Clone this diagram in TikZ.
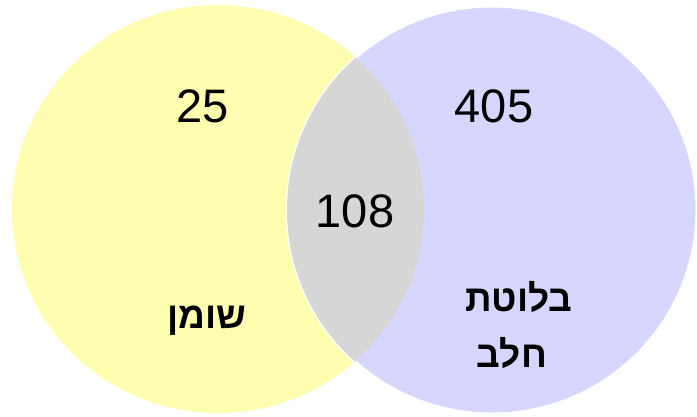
\documentclass[tikz,border=0pt]{standalone}
\usepackage{fontspec}
\setmainfont{Liberation Sans}
\newfontfamily\hebfont[Script=Hebrew]{Liberation Sans}
\TeXXeTstate=1
\definecolor{yellowc}{HTML}{FFFDB0}
\definecolor{bluec}{HTML}{D6D6FF}
\definecolor{grayc}{HTML}{D6D6D6}
\tikzset{
  num/.style={anchor=base, inner sep=0pt, font=\fontsize{47}{56}\selectfont},
  heb/.style={anchor=base, inner sep=0pt, font=\hebfont\bfseries\fontsize{37}{44}\selectfont}
}
\begin{document}
\begin{tikzpicture}[x=1pt,y=-1pt]
\useasboundingbox (0,0) rectangle (697,417);
\fill[yellowc] (218,209) ellipse [x radius=206, y radius=204];
\path[fill=bluec, draw=white, line width=3pt] (492,210) ellipse [x radius=205, y radius=204];
\begin{scope}
  \clip (218,209) ellipse [x radius=206, y radius=204];
  \fill[grayc] (492,210) ellipse [x radius=205, y radius=204];
\end{scope}
\node[num] (n25) at (203,123) {25};
\node[num] (n405) at (494,123) {405};
\node[num] (n108) at (355,228) {108};
\node[heb] (lshoman) at (207,328) {\beginR שומן\endR};
\node[heb] (lbal1) at (519,312) {\beginR בלוטת\endR};
\node[heb] (lbal2) at (512,367) {\beginR חלב\endR};
\end{tikzpicture}
\end{document}
